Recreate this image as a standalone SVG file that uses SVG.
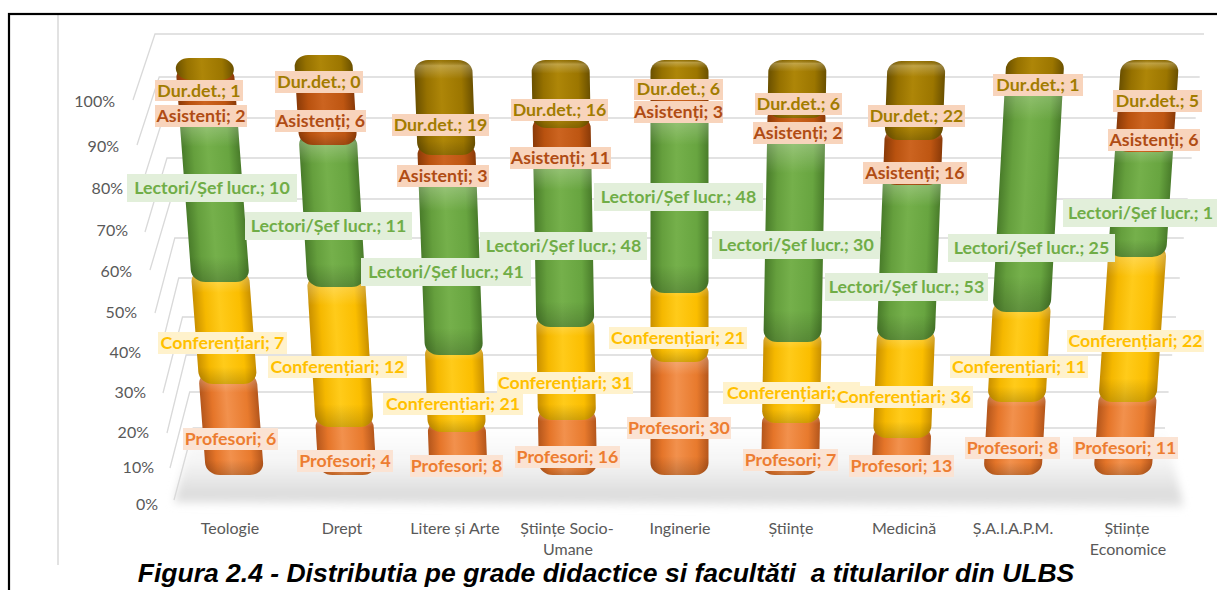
<svg xmlns="http://www.w3.org/2000/svg" width="1217" height="590" viewBox="0 0 1217 590">
<style>
.grid{stroke:#D9D9D9;stroke-width:1.3;fill:none}
.ax{font-family:Lato,"Liberation Sans",sans-serif;font-size:16px;fill:#595959}
.lbl text{font-family:Lato,"Liberation Sans",sans-serif;font-weight:700;font-size:17.8px;text-anchor:middle}
.lbl text.st{text-anchor:start}
.bP{fill:#FBE3D3}.bC{fill:#FFF2CC}.bL{fill:#E2EFDA}.bA{fill:#F8D4BC}.bD{fill:#F8D4BC}
.tP{fill:#ED7D31}.tC{fill:#FFC000}.tL{fill:#70AD47}.tA{fill:#B04C14}.tD{fill:#A27C00}
.o{fill:url(#gO)}.y{fill:url(#gY)}.g{fill:url(#gG)}.b{fill:url(#gB)}.d{fill:url(#gD)}
.hl{fill:url(#gH)}
</style>
<defs>
<linearGradient id="gO" x1="0" y1="0" x2="1" y2="0"><stop offset="0" stop-color="#B4561C"/><stop offset="0.2" stop-color="#E57529"/><stop offset="0.45" stop-color="#F2914D"/><stop offset="0.8" stop-color="#E87A2D"/><stop offset="1" stop-color="#B4561C"/></linearGradient>
<linearGradient id="gY" x1="0" y1="0" x2="1" y2="0"><stop offset="0" stop-color="#C99000"/><stop offset="0.2" stop-color="#F5B800"/><stop offset="0.45" stop-color="#FFCB1A"/><stop offset="0.8" stop-color="#FBBE00"/><stop offset="1" stop-color="#C99000"/></linearGradient>
<linearGradient id="gG" x1="0" y1="0" x2="1" y2="0"><stop offset="0" stop-color="#497C2A"/><stop offset="0.2" stop-color="#659F3D"/><stop offset="0.45" stop-color="#75B04B"/><stop offset="0.8" stop-color="#68A540"/><stop offset="1" stop-color="#497C2A"/></linearGradient>
<linearGradient id="gB" x1="0" y1="0" x2="1" y2="0"><stop offset="0" stop-color="#8A3A08"/><stop offset="0.2" stop-color="#B9520F"/><stop offset="0.45" stop-color="#CC6420"/><stop offset="0.8" stop-color="#BE5612"/><stop offset="1" stop-color="#8A3A08"/></linearGradient>
<linearGradient id="gD" x1="0" y1="0" x2="1" y2="0"><stop offset="0" stop-color="#6A5000"/><stop offset="0.2" stop-color="#967100"/><stop offset="0.45" stop-color="#AE8608"/><stop offset="0.8" stop-color="#9C7600"/><stop offset="1" stop-color="#6A5000"/></linearGradient>
<linearGradient id="gH" x1="0" y1="0" x2="0" y2="1"><stop offset="0" stop-color="#000" stop-opacity="0.12"/><stop offset="0.06" stop-color="#fff" stop-opacity="0.25"/><stop offset="0.2" stop-color="#fff" stop-opacity="0"/><stop offset="0.85" stop-color="#000" stop-opacity="0"/><stop offset="1" stop-color="#000" stop-opacity="0.18"/></linearGradient>
<linearGradient id="gF" x1="0" y1="0" x2="0" y2="1"><stop offset="0" stop-color="#FFFFFF"/><stop offset="0.45" stop-color="#F4F4F4"/><stop offset="0.85" stop-color="#DCDCDC"/><stop offset="1" stop-color="#E8E8E8"/></linearGradient>
<filter id="blur" x="-0.05" y="-0.3" width="1.1" height="1.6"><feGaussianBlur stdDeviation="4"/></filter>
</defs>
<rect width="1217" height="590" fill="#fff"/>
<line x1="58" y1="15" x2="58" y2="565" stroke="#D9D9D9" stroke-width="1.5"/>

<g id="floor"><polygon points="193,428 1165,428 1184,507 174,503" fill="url(#gF)" filter="url(#blur)"/></g>

<g id="gridlines">
<polyline class="grid" points="174,500 193.2,428 1165,428"/>
<polyline class="grid" points="170,468 189.7,392 1168.6,392"/>
<polyline class="grid" points="167,433 186.1,355 1172.2,355"/>
<polyline class="grid" points="163,393 182.5,317 1176,317"/>
<polyline class="grid" points="160,353 178.7,278 1179.8,278"/>
<polyline class="grid" points="155,313 174.8,238 1183.8,238"/>
<polyline class="grid" points="150,270 171,199 1187.7,199"/>
<polyline class="grid" points="145,232 167,158 1191.7,158"/>
<polyline class="grid" points="141,188 163.1,118 1195.7,118"/>
<polyline class="grid" points="137,145 159.2,77 1199.7,77"/>
<polyline class="grid" points="133,100 155,34 1204,34"/>
</g>

<g id="axis-values" class="ax" text-anchor="end">
<text x="115" y="107">100%</text><text x="119" y="152">90%</text><text x="123" y="194">80%</text><text x="128" y="236">70%</text><text x="132" y="277">60%</text><text x="137" y="318">50%</text><text x="141" y="358">40%</text><text x="146" y="398">30%</text><text x="149" y="438">20%</text><text x="154" y="473">10%</text><text x="158" y="510">0%</text>
</g>

<g id="bar-teologie" transform="matrix(1 0 0.0743 1 199.7 0)">
<rect class="o" x="-29" y="372" width="58" height="103" rx="14" ry="12"/><rect class="hl" x="-29" y="372" width="58" height="103" rx="14" ry="12"/>
<rect class="y" x="-29" y="270" width="58" height="114" rx="14" ry="12"/><rect class="hl" x="-29" y="270" width="58" height="114" rx="14" ry="12"/>
<rect class="g" x="-29" y="113" width="58" height="169" rx="14" ry="12"/><rect class="hl" x="-29" y="113" width="58" height="169" rx="14" ry="12"/>
<rect class="b" x="-29" y="66" width="58" height="59" rx="14" ry="12"/>
<rect class="d" x="-29" y="58" width="58" height="22" rx="14" ry="11"/>
</g>
<g id="bar-drept" transform="matrix(1 0 0.0583 1 319.8 0)">
<rect class="o" x="-29" y="415" width="58" height="60" rx="14" ry="12"/><rect class="hl" x="-29" y="415" width="58" height="60" rx="14" ry="12"/>
<rect class="y" x="-29" y="275" width="58" height="152" rx="14" ry="12"/><rect class="hl" x="-29" y="275" width="58" height="152" rx="14" ry="12"/>
<rect class="g" x="-29" y="133" width="58" height="154" rx="14" ry="12"/><rect class="hl" x="-29" y="133" width="58" height="154" rx="14" ry="12"/>
<rect class="b" x="-29" y="73" width="58" height="72" rx="14" ry="12"/><rect class="hl" x="-29" y="73" width="58" height="72" rx="14" ry="12"/>
<rect class="d" x="-29" y="55" width="58" height="30" rx="14" ry="12"/>
</g>
<g id="bar-litere" transform="matrix(1 0 0.0374 1 440.8 0)">
<rect class="o" x="-29" y="420" width="58" height="54" rx="14" ry="12"/><rect class="hl" x="-29" y="420" width="58" height="54" rx="14" ry="12"/>
<rect class="y" x="-29" y="343" width="58" height="89" rx="14" ry="12"/><rect class="hl" x="-29" y="343" width="58" height="89" rx="14" ry="12"/>
<rect class="g" x="-29" y="175" width="58" height="180" rx="14" ry="12"/><rect class="hl" x="-29" y="175" width="58" height="180" rx="14" ry="12"/>
<rect class="b" x="-29" y="143" width="58" height="44" rx="14" ry="12"/>
<rect class="d" x="-29" y="60" width="58" height="95" rx="14" ry="12"/><rect class="hl" x="-29" y="60" width="58" height="95" rx="14" ry="12"/>
</g>
<g id="bar-socio-umane" transform="matrix(1 0 0.0181 1 559.4 0)">
<rect class="o" x="-29" y="408" width="58" height="67" rx="14" ry="12"/><rect class="hl" x="-29" y="408" width="58" height="67" rx="14" ry="12"/>
<rect class="y" x="-29" y="315" width="58" height="105" rx="14" ry="12"/><rect class="hl" x="-29" y="315" width="58" height="105" rx="14" ry="12"/>
<rect class="g" x="-29" y="156" width="58" height="171" rx="14" ry="12"/><rect class="hl" x="-29" y="156" width="58" height="171" rx="14" ry="12"/>
<rect class="b" x="-29" y="116" width="58" height="52" rx="14" ry="12"/>
<rect class="d" x="-29" y="60" width="58" height="68" rx="14" ry="12"/><rect class="hl" x="-29" y="60" width="58" height="68" rx="14" ry="12"/>
</g>
<g id="bar-inginerie" transform="translate(679.5 0)">
<rect class="o" x="-29" y="350" width="58" height="125" rx="14" ry="12"/><rect class="hl" x="-29" y="350" width="58" height="125" rx="14" ry="12"/>
<rect class="y" x="-29" y="281" width="58" height="81" rx="14" ry="12"/><rect class="hl" x="-29" y="281" width="58" height="81" rx="14" ry="12"/>
<rect class="g" x="-29" y="108" width="58" height="185" rx="14" ry="12"/><rect class="hl" x="-29" y="108" width="58" height="185" rx="14" ry="12"/>
<rect class="b" x="-29" y="88" width="58" height="32" rx="14" ry="12"/>
<rect class="d" x="-29" y="60" width="58" height="40" rx="14" ry="12"/><rect class="hl" x="-29" y="60" width="58" height="40" rx="14" ry="12"/>
</g>
<g id="bar-stiinte" transform="matrix(1 0 -0.0181 1 798.6 0)">
<rect class="o" x="-29" y="411" width="58" height="64" rx="14" ry="12"/><rect class="hl" x="-29" y="411" width="58" height="64" rx="14" ry="12"/>
<rect class="y" x="-29" y="330" width="58" height="93" rx="14" ry="12"/><rect class="hl" x="-29" y="330" width="58" height="93" rx="14" ry="12"/>
<rect class="g" x="-29" y="131" width="58" height="211" rx="14" ry="12"/><rect class="hl" x="-29" y="131" width="58" height="211" rx="14" ry="12"/>
<rect class="b" x="-29" y="106" width="58" height="37" rx="14" ry="12"/>
<rect class="d" x="-29" y="60" width="58" height="58" rx="14" ry="12"/><rect class="hl" x="-29" y="60" width="58" height="58" rx="14" ry="12"/>
</g>
<g id="bar-medicina" transform="matrix(1 0 -0.0387 1 918.9 0)">
<rect class="o" x="-29" y="426" width="58" height="48" rx="14" ry="12"/><rect class="hl" x="-29" y="426" width="58" height="48" rx="14" ry="12"/>
<rect class="y" x="-29" y="328" width="58" height="110" rx="14" ry="12"/><rect class="hl" x="-29" y="328" width="58" height="110" rx="14" ry="12"/>
<rect class="g" x="-29" y="173" width="58" height="167" rx="14" ry="12"/><rect class="hl" x="-29" y="173" width="58" height="167" rx="14" ry="12"/>
<rect class="b" x="-29" y="128" width="58" height="57" rx="14" ry="12"/><rect class="hl" x="-29" y="128" width="58" height="57" rx="14" ry="12"/>
<rect class="d" x="-29" y="61" width="58" height="79" rx="14" ry="12"/><rect class="hl" x="-29" y="61" width="58" height="79" rx="14" ry="12"/>
</g>
<g id="bar-saiapm" transform="matrix(1 0 -0.055 1 1038.6 0)">
<rect class="o" x="-29" y="390" width="58" height="85" rx="14" ry="12"/><rect class="hl" x="-29" y="390" width="58" height="85" rx="14" ry="12"/>
<rect class="y" x="-29" y="300" width="58" height="102" rx="14" ry="12"/><rect class="hl" x="-29" y="300" width="58" height="102" rx="14" ry="12"/>
<rect class="g" x="-29" y="73" width="58" height="239" rx="14" ry="12"/><rect class="hl" x="-29" y="73" width="58" height="239" rx="14" ry="12"/>
<rect class="d" x="-29" y="57" width="58" height="28" rx="14" ry="12"/>
</g>
<g id="bar-economice" transform="matrix(1 0 -0.0663 1 1154 0)">
<rect class="o" x="-29" y="390" width="58" height="85" rx="14" ry="12"/><rect class="hl" x="-29" y="390" width="58" height="85" rx="14" ry="12"/>
<rect class="y" x="-29" y="245" width="58" height="157" rx="14" ry="12"/><rect class="hl" x="-29" y="245" width="58" height="157" rx="14" ry="12"/>
<rect class="g" x="-29" y="140" width="58" height="117" rx="14" ry="12"/><rect class="hl" x="-29" y="140" width="58" height="117" rx="14" ry="12"/>
<rect class="b" x="-29" y="100" width="58" height="52" rx="14" ry="12"/>
<rect class="d" x="-29" y="60" width="58" height="52" rx="14" ry="12"/><rect class="hl" x="-29" y="60" width="58" height="52" rx="14" ry="12"/>
</g>

<g id="labels-profesori" class="lbl">
<rect class="bP" x="183" y="428" width="95" height="22"/><text class="tP" x="230.5" y="445">Profesori; 6</text>
<rect class="bP" x="297" y="450" width="96" height="22"/><text class="tP" x="345" y="467">Profesori; 4</text>
<rect class="bP" x="410" y="455" width="93" height="22"/><text class="tP" x="456.5" y="472">Profesori; 8</text>
<rect class="bP" x="515" y="446" width="105" height="22"/><text class="tP" x="567.5" y="463">Profesori; 16</text>
<rect class="bP" x="627" y="417" width="104" height="22"/><text class="tP" x="679" y="434">Profesori; 30</text>
<rect class="bP" x="743" y="449" width="95" height="22"/><text class="tP" x="790.5" y="466">Profesori; 7</text>
<rect class="bP" x="849" y="455" width="105" height="22"/><text class="tP" x="901.5" y="472">Profesori; 13</text>
<rect class="bP" x="965" y="437" width="95" height="22"/><text class="tP" x="1012.5" y="454">Profesori; 8</text>
<rect class="bP" x="1073" y="437" width="105" height="22"/><text class="tP" x="1125.5" y="454">Profesori; 11</text>
</g>
<g id="labels-conferentiari" class="lbl">
<rect class="bC" x="158" y="332" width="129" height="22"/><text class="tC" x="222.5" y="349">Conferențiari; 7</text>
<rect class="bC" x="268" y="356" width="139" height="22"/><text class="tC" x="337.5" y="373">Conferențiari; 12</text>
<rect class="bC" x="383" y="393" width="140" height="22"/><text class="tC" x="453" y="410">Conferențiari; 21</text>
<rect class="bC" x="497" y="372" width="136" height="22"/><text class="tC" x="565" y="389">Conferențiari; 31</text>
<rect class="bC" x="609" y="327" width="138" height="22"/><text class="tC" x="678" y="344">Conferențiari; 21</text>
<rect class="bC" x="723" y="382" width="137" height="22"/><text class="tC st" x="727" y="399">Conferențiari;</text>
<rect class="bC" x="835" y="386" width="138" height="22"/><text class="tC" x="904" y="403">Conferențiari; 36</text>
<rect class="bC" x="950" y="356" width="138" height="22"/><text class="tC" x="1019" y="373">Conferențiari; 11</text>
<rect class="bC" x="1067" y="330" width="137" height="22"/><text class="tC" x="1135.5" y="347">Conferențiari; 22</text>
</g>
<g id="labels-lectori" class="lbl">
<rect class="bL" x="127" y="174" width="170" height="28"/><text class="tL" x="212" y="194">Lectori/Șef lucr.; 10</text>
<rect class="bL" x="245" y="212" width="167" height="28"/><text class="tL" x="328.5" y="232">Lectori/Șef lucr.; 11</text>
<rect class="bL" x="361" y="258" width="170" height="28"/><text class="tL" x="446" y="278">Lectori/Șef lucr.; 41</text>
<rect class="bL" x="480" y="232" width="167" height="28"/><text class="tL" x="563.5" y="252">Lectori/Șef lucr.; 48</text>
<rect class="bL" x="594" y="183" width="169" height="28"/><text class="tL" x="678.5" y="203">Lectori/Șef lucr.; 48</text>
<rect class="bL" x="712" y="231" width="168" height="28"/><text class="tL" x="796" y="251">Lectori/Șef lucr.; 30</text>
<rect class="bL" x="825" y="273" width="163" height="28"/><text class="tL" x="906.5" y="293">Lectori/Șef lucr.; 53</text>
<rect class="bL" x="948" y="234" width="167" height="28"/><text class="tL" x="1031.5" y="254">Lectori/Șef lucr.; 25</text>
<rect class="bL" x="1063" y="199" width="177" height="28"/><text class="tL st" x="1068" y="219">Lectori/Șef lucr.; 1</text>
</g>
<g id="labels-asistenti" class="lbl">
<rect class="bA" x="155" y="105" width="92" height="22"/><text class="tA" x="201" y="122">Asistenți; 2</text>
<rect class="bA" x="275" y="110" width="91" height="22"/><text class="tA" x="320.5" y="127">Asistenți; 6</text>
<rect class="bA" x="397" y="165" width="92" height="22"/><text class="tA" x="443" y="182">Asistenți; 3</text>
<rect class="bA" x="510" y="147" width="101" height="22"/><text class="tA" x="560.5" y="164">Asistenți; 11</text>
<rect class="bA" x="634" y="101" width="89" height="22"/><text class="tA" x="678.5" y="118">Asistenți; 3</text>
<rect class="bA" x="753" y="122" width="90" height="22"/><text class="tA" x="798" y="139">Asistenți; 2</text>
<rect class="bA" x="863" y="162" width="104" height="22"/><text class="tA" x="915" y="179">Asistenți; 16</text>
<rect class="bA" x="1108" y="129" width="92" height="22"/><text class="tA" x="1154" y="146">Asistenți; 6</text>
</g>
<g id="labels-durdet" class="lbl">
<rect class="bD" x="155" y="80" width="88" height="21"/><text class="tD" x="199" y="97">Dur.det.; 1</text>
<rect class="bD" x="275" y="71" width="88" height="22"/><text class="tD" x="319" y="88">Dur.det.; 0</text>
<rect class="bD" x="392" y="114" width="97" height="22"/><text class="tD" x="440.5" y="131">Dur.det.; 19</text>
<rect class="bD" x="511" y="99" width="97" height="22"/><text class="tD" x="559.5" y="116">Dur.det.; 16</text>
<rect class="bD" x="634" y="79" width="89" height="21"/><text class="tD" x="678.5" y="95">Dur.det.; 6</text>
<rect class="bD" x="755" y="93" width="87" height="22"/><text class="tD" x="798.5" y="110">Dur.det.; 6</text>
<rect class="bD" x="868" y="105" width="97" height="22"/><text class="tD" x="916.5" y="122">Dur.det.; 22</text>
<rect class="bD" x="993" y="74" width="90" height="22"/><text class="tD" x="1038" y="91">Dur.det.; 1</text>
<rect class="bD" x="1113" y="90" width="89" height="22"/><text class="tD" x="1157.5" y="107">Dur.det.; 5</text>
</g>

<g id="categories" class="ax" text-anchor="middle">
<text x="230" y="534">Teologie</text>
<text x="342" y="534">Drept</text>
<text x="455" y="534">Litere și Arte</text>
<text x="567" y="534">Științe Socio-</text><text x="568" y="555">Umane</text>
<text x="680" y="534">Inginerie</text>
<text x="791" y="534">Științe</text>
<text x="904" y="534">Medicină</text>
<text x="1013" y="534">Ș.A.I.A.P.M.</text>
<text x="1127" y="534">Științe</text><text x="1128" y="555">Economice</text>
</g>

<rect id="frame" x="9" y="14" width="1230" height="620" fill="none" stroke="#000" stroke-width="2.2"/>
<text id="caption" x="606" y="582" text-anchor="middle" font-family="'Liberation Sans',Arial,sans-serif" font-weight="700" font-style="italic" font-size="26.5" fill="#000" style="white-space:pre">Figura 2.4 - Distributia pe grade didactice si facultăti  a titularilor din ULBS</text>
</svg>
